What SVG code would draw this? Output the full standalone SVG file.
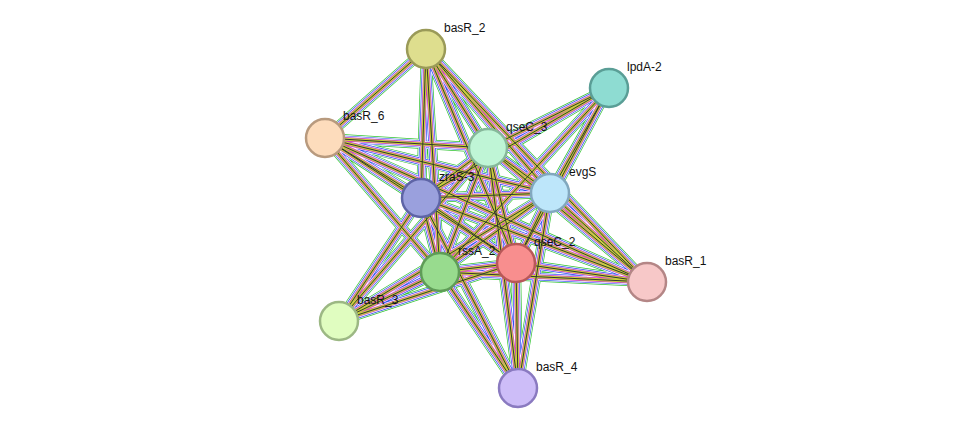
<svg xmlns="http://www.w3.org/2000/svg" xmlns:xlink="http://www.w3.org/1999/xlink" width="976" height="434" viewBox="0 0 976 434">
<style>
.e{fill:none;stroke-linecap:butt}
.l1{stroke:#33c433;stroke-width:10}
.l2{stroke:#ffffff;stroke-width:8.6}
.l3{stroke:#2f4ff0;stroke-width:7.2}
.l4{stroke:#ffffff;stroke-width:5.8}
.l5{stroke:#d03ad0;stroke-width:4.4}
.l6{stroke:#c9d23a;stroke-width:3}
.l7{stroke:#333333;stroke-width:1}
.n{stroke-width:2.5}
text{font-family:"Liberation Sans",Arial,sans-serif;font-size:12px;fill:#111}
</style>
<defs>
<path id="edges" d="M426 49L325 138M426 49L488 148M426 49L421 198M426 49L550 193M426 49L440 272M426 49L516 263M426 49L647 282
M609 88L488 148M609 88L550 193M609 88L421 198M609 88L440 272M609 88L516 263
M325 138L488 148M325 138L421 198M325 138L550 193M325 138L440 272M325 138L516 263M325 138L647 282
M488 148L421 198M488 148L550 193M488 148L440 272M488 148L516 263M488 148L647 282M488 148L518 388M488 148L339 321
M421 198L550 193M421 198L440 272M421 198L516 263M421 198L647 282M421 198L339 321M421 198L518 388
M550 193L440 272M550 193L516 263M550 193L647 282M550 193L339 321M550 193L518 388
M440 272L516 263M440 272L647 282M440 272L339 321M440 272L518 388
M516 263L647 282M516 263L339 321M516 263L518 388"/>
</defs>
<g id="connectors">
<use xlink:href="#edges" class="e l1"/>
<use xlink:href="#edges" class="e l2"/>
<use xlink:href="#edges" class="e l3"/>
<use xlink:href="#edges" class="e l4"/>
<use xlink:href="#edges" class="e l5"/>
<use xlink:href="#edges" class="e l6"/>
<use xlink:href="#edges" class="e l7"/>
</g>
<g id="basR_2"><circle class="n" cx="426" cy="49" r="19" fill="#dede8e" stroke="#9a9a58"/><text x="444" y="32">basR_2</text></g>
<g id="lpdA-2"><circle class="n" cx="609" cy="88" r="19" fill="#8edcd2" stroke="#5a9e96"/><text x="627" y="71">lpdA-2</text></g>
<g id="basR_6"><circle class="n" cx="325" cy="138" r="19" fill="#fddcbc" stroke="#b89a7e"/><text x="343" y="120">basR_6</text></g>
<g id="qseC_3"><circle class="n" cx="488" cy="148" r="19" fill="#bff5d6" stroke="#86b89a"/><text x="506" y="131">qseC_3</text></g>
<g id="zraS-3"><circle class="n" cx="421" cy="198" r="19" fill="#9aa0dd" stroke="#5e64a6"/><text x="439" y="181">zraS-3</text></g>
<g id="evgS"><circle class="n" cx="550" cy="193" r="19" fill="#bde6fa" stroke="#82a8be"/><text x="569" y="176">evgS</text></g>
<g id="rssA_2"><circle class="n" cx="440" cy="272" r="19" fill="#98db8e" stroke="#5f9c57"/><text x="458" y="255">rssA_2</text></g>
<g id="qseC_2"><circle class="n" cx="516" cy="263" r="19" fill="#f88e8e" stroke="#b85858"/><text x="534" y="246">qseC_2</text></g>
<g id="basR_1"><circle class="n" cx="647" cy="282" r="19" fill="#f7c8c8" stroke="#b48686"/><text x="665" y="265">basR_1</text></g>
<g id="basR_3"><circle class="n" cx="339" cy="321" r="19" fill="#e0fdc0" stroke="#9cb884"/><text x="357" y="304">basR_3</text></g>
<g id="basR_4"><circle class="n" cx="518" cy="388" r="19" fill="#cdbdf8" stroke="#8a7ac0"/><text x="536" y="371">basR_4</text></g>
</svg>
